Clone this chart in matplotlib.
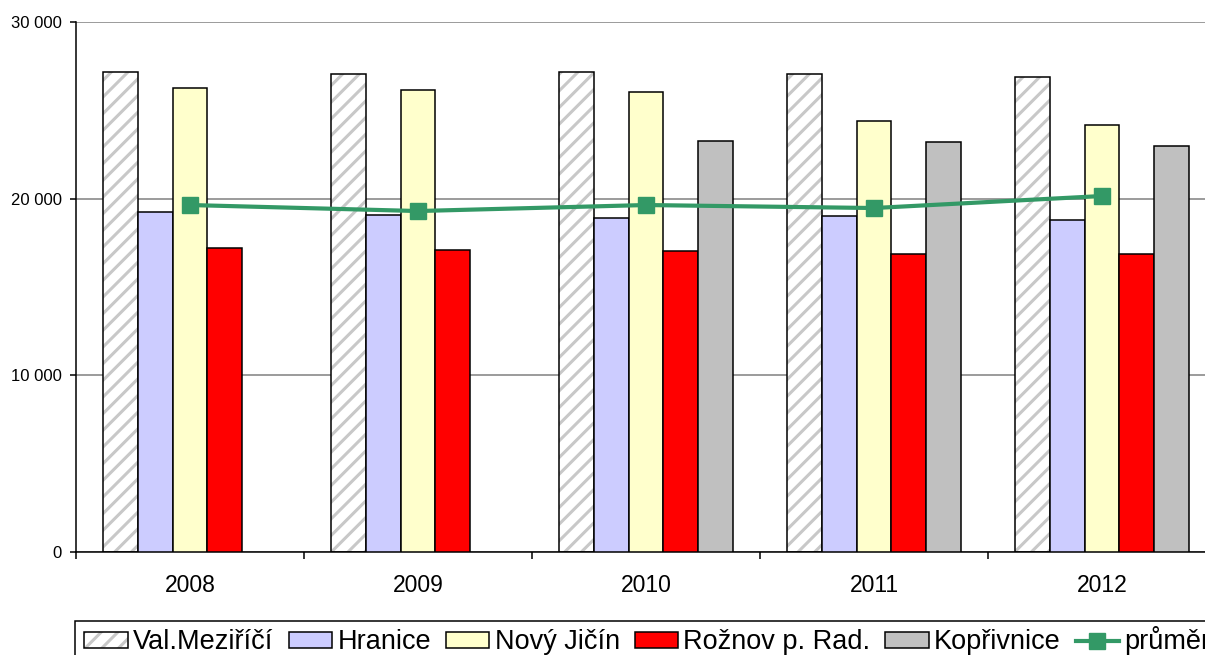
import numpy as np
import matplotlib
matplotlib.use("Agg")
import matplotlib.pyplot as plt
from matplotlib.patches import Patch, Rectangle
from matplotlib.lines import Line2D
from matplotlib.legend_handler import HandlerTuple
from matplotlib.ticker import FuncFormatter, FixedLocator

plt.rcParams['font.family'] = ['Liberation Sans', 'DejaVu Sans']
plt.rcParams['hatch.linewidth'] = 2.2

years = ['2008', '2009', '2010', '2011', '2012']
val_mezirici = [27170, 27060, 27170, 27060, 26890]
hranice = [19250, 19080, 18900, 19020, 18790]
novy_jicin = [26260, 26150, 26040, 24400, 24170]
roznov = [17210, 17100, 17040, 16870, 16870]
koprivnice = [np.nan, np.nan, 23260, 23210, 22980]
prumer = [19640, 19300, 19640, 19470, 20150]

series = [
    ('Val.Meziříčí', val_mezirici, 'white'),
    ('Hranice', hranice, '#CCCCFF'),
    ('Nový Jičín', novy_jicin, '#FFFFCC'),
    ('Rožnov p. Rad.', roznov, '#FF0000'),
    ('Kopřivnice', koprivnice, '#C0C0C0'),
]

W, H = 1205, 655
fig = plt.figure(figsize=(W/100, H/100), dpi=100)
ax = fig.add_axes([76/W, 103/H, 1140/W, 530/H])

x = np.arange(len(years))
w = 0.153
handles = []
for i, (name, vals, col) in enumerate(series):
    pos = x + (i - 2) * w
    if i == 0:
        ax.bar(pos, vals, width=w, color='white', edgecolor='#C8C8C8',
               hatch='//', linewidth=0, zorder=2)
        ax.bar(pos, vals, width=w, fill=False, edgecolor='black',
               linewidth=1.1, zorder=3)
        h = (Patch(facecolor='white', edgecolor='#C8C8C8', hatch='//', linewidth=0),
             Patch(fill=False, edgecolor='black', linewidth=1.1))
    else:
        ax.bar(pos, vals, width=w, color=col, edgecolor='black',
               linewidth=1.1, zorder=3)
        h = Patch(facecolor=col, edgecolor='black', linewidth=1.1)
    handles.append(h)

ax.plot(x, prumer, color='#339966', linewidth=3, marker='s',
        markersize=12, zorder=5)
handles.append(Line2D([], [], color='#339966', linewidth=3, marker='s', markersize=12))
labels = [s[0] for s in series] + ['průměr']

ax.set_xlim(-0.5, 4.5)
ax.set_ylim(0, 30000)
ax.set_yticks([0, 10000, 20000, 30000])
ax.yaxis.set_major_formatter(FuncFormatter(lambda v, p: f"{int(v):,}".replace(',', ' ')))
ax.yaxis.grid(True, color='#808080', linewidth=1.1, zorder=0)
ax.set_axisbelow(True)

ax.set_xticks(x)
ax.set_xticklabels(years)
ax.xaxis.set_minor_locator(FixedLocator(np.arange(-0.5, 5.0, 1.0)))
ax.tick_params(axis='x', which='major', length=0, pad=16, labelsize=16.5)
ax.tick_params(axis='x', which='minor', length=5, width=1.1, direction='out')
ax.tick_params(axis='y', which='major', length=4, width=1.1, pad=6, labelsize=12)

for s in ['top', 'right']:
    ax.spines[s].set_visible(False)
for s in ['left', 'bottom']:
    ax.spines[s].set_linewidth(1.1)
    ax.spines[s].set_color('black')

# legend frame (extends past the figure edges, like the reference)
fig.patches.append(Rectangle((75/W, -20/H), 1200/W, (20 + 655 - 621)/H,
                             transform=fig.transFigure, fill=False,
                             edgecolor='black', linewidth=1.1))

leg = fig.legend(handles, labels, loc='upper left',
                 bbox_to_anchor=(75/W, 1 - 617/H), ncol=6,
                 fontsize=19.5, frameon=False,
                 handlelength=1.6, handleheight=0.5,
                 handletextpad=0.2, columnspacing=0.55, borderpad=0.35,
                 borderaxespad=0, handler_map={tuple: HandlerTuple(ndivide=1, pad=0)})

fig.savefig('out.png', dpi=100)
